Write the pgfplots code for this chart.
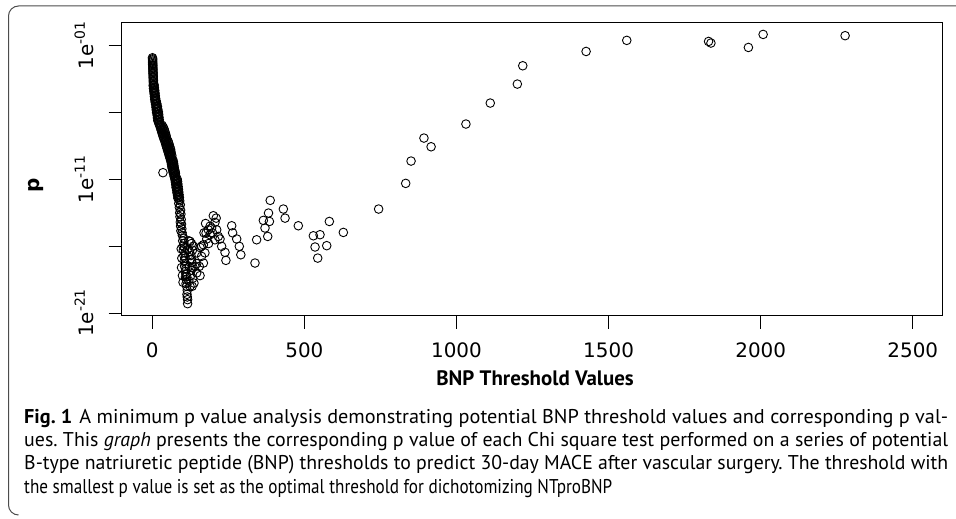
\documentclass[border=0pt]{standalone}
\usepackage{fontspec}
\setmainfont{PT Sans}
\newfontfamily\capfont{PT Sans}
\newfontfamily\dvs{DejaVu Sans}
\usepackage{graphicx}
\usepackage{pgfplots}
\usepackage{pgfplotstable}
\pgfplotsset{compat=1.18}
\frenchspacing
\newcommand\sufx[1]{\raisebox{0.42em}{\fontsize{14}{14}\selectfont #1}}
% x = BNP threshold, lp = log10(p)
\pgfplotstableread{
x lp
0.5 -1.90
1.0 -1.98
0.8 -2.06
1.2 -2.15
1.0 -2.24
1.5 -2.33
1.3 -2.42
1.8 -2.50
1.6 -2.60
2.0 -2.70
2.2 -2.80
2.0 -2.90
2.5 -3.00
2.3 -3.10
2.8 -3.20
3.0 -3.30
2.8 -3.40
3.3 -3.50
3.5 -3.60
3.3 -3.70
4.0 -3.80
4 -3.90
6 -3.95
3 -4.00
5 -4.10
7 -4.15
4 -4.20
6 -4.30
8 -4.35
5 -4.40
7 -4.50
9 -4.55
6 -4.60
8 -4.70
10 -4.75
7 -4.80
9 -4.90
11 -4.95
8 -5.00
10 -5.10
13 -5.15
9 -5.20
12 -5.30
15 -5.35
11 -5.40
14 -5.50
17 -5.55
12 -5.60
15 -5.70
18 -5.75
13 -5.80
16 -5.90
20 -5.95
14 -6.00
18 -6.10
21 -6.15
16 -6.20
19 -6.30
22 -6.35
17 -6.40
20 -6.50
23 -6.55
18 -6.60
21 -6.70
24 -6.75
22 -6.85
27 -6.90
32 -6.95
25 -7.00
30 -7.05
36 -7.10
27 -7.15
33 -7.20
39 -7.25
29 -7.30
35 -7.35
41 -7.40
31 -7.45
37 -7.50
43 -7.55
33 -7.60
39 -7.65
45 -7.70
35 -7.75
41 -7.80
46 -7.85
37 -7.90
43 -7.95
48 -8.00
40 -8.05
46 -8.10
52 -8.15
42 -8.20
48 -8.25
54 -8.30
44 -8.35
50 -8.40
56 -8.45
46 -8.50
52 -8.55
58 -8.60
48 -8.65
54 -8.70
60 -8.75
50 -8.80
56 -8.85
61 -8.90
52 -8.95
58 -9.00
62 -9.05
54 -9.10
60 -9.15
64 -9.20
56 -9.25
61 -9.30
58 -9.40
63 -9.45
67 -9.50
60 -9.55
65 -9.60
69 -9.65
62 -9.70
66 -9.75
70 -9.80
63 -9.85
67 -9.90
71 -9.95
64 -10.00
68 -10.05
72 -10.10
65 -10.15
69 -10.20
73 -10.25
67 -10.30
71 -10.35
75 -10.40
68 -10.45
72 -10.50
76 -10.55
70 -10.60
74 -10.70
77 -10.75
72 -10.80
35 -10.50
74 -10.90
78 -10.95
82 -11.00
75 -11.05
79 -11.10
83 -11.15
76 -11.20
80 -11.30
84 -11.35
77 -11.40
81 -11.50
85 -11.55
78 -11.60
82 -11.70
86 -11.75
80 -11.80
84 -11.90
87 -11.95
81 -12.00
85 -12.10
88 -12.15
83 -12.20
86 -12.30
89 -12.35
84 -12.40
88 -12.50
90 -12.60
87 -12.80
92 -12.90
89 -13.10
93 -13.30
90 -13.50
94 -13.60
91 -13.80
95 -14.00
92 -14.20
96 -14.35
93 -14.50
97 -14.70
94 -14.85
98 -15.00
99 -15.20
103 -15.40
100 -15.60
104 -15.80
101 -16.00
106 -16.10
102 -16.30
107 -16.50
104 -16.70
108 -16.90
105 -17.10
109 -17.30
106 -17.50
110 -17.70
108 -17.90
111 -18.10
109 -18.30
112 -18.50
111 -18.80
113 -19.00
115 -19.30
114 -19.60
115 -19.80
116 -20.00
116 -20.30
95 -16.20
97 -16.90
96 -17.60
99 -18.20
101 -18.70
120 -15.60
124 -15.64
129 -15.80
135 -16.00
115 -16.26
122 -16.40
127 -16.70
132 -16.30
129.5 -17.00
124 -17.00
130 -17.20
121.7 -17.51
128 -17.80
134 -17.60
140 -17.51
146 -17.30
113 -18.26
126 -18.20
133 -18.40
137 -18.76
146 -18.00
124 -19.00
120 -18.60
131 -19.00
146 -16.50
154.5 -17.51
157 -16.10
162 -16.76
157 -18.20
168 -17.26
173 -16.50
162 -16.00
168 -15.89
170 -15.00
176.6 -15.02
178.9 -15.46
184 -14.77
189.7 -15.14
195 -14.64
200.6 -13.72
206 -14.22
206 -15.52
211.7 -14.77
217 -15.27
222.6 -15.46
228 -16.01
239 -16.46
242 -17.06
185 -15.80
175 -14.30
190 -14.50
210 -13.90
198 -15.00
261 -14.47
264 -15.00
277.5 -15.46
286 -16.01
291 -16.64
337.6 -17.26
343 -15.52
365 -14.07
370.5 -14.64
379.4 -15.27
382 -13.52
385 -14.15
387.6 -12.57
430.8 -13.22
436.4 -13.90
480 -14.47
529.4 -15.22
535 -16.06
543.8 -16.89
551.4 -15.14
573.4 -15.96
582 -14.15
628 -14.97
744 -13.22
833 -11.30
850.6 -9.63
893 -7.91
916.5 -8.56
1031 -6.86
1111 -5.29
1200 -3.87
1217.8 -2.50
1426 -1.43
1559.7 -0.60
1828.6 -0.68
1836.4 -0.80
1959.6 -1.13
2008 -0.155
2277.5 -0.25
}\pvals

\newlength\capw
\newcommand\capline[2]{%
  \settowidth\capw{\capfont\fontsize{20}{22}\selectfont #2}%
  \scalebox{\fpeval{(#1)/\capw}}[1]{\capfont\fontsize{20}{22}\selectfont #2}}

\begin{document}
\begin{tikzpicture}
\useasboundingbox (0,0) rectangle (956bp,519bp);
\draw[line width=1bp, black!70] (957bp,513bp) -- (18.5bp,513bp)
  arc[start angle=90, end angle=180, radius=10bp] -- (8.5bp,14bp)
  arc[start angle=180, end angle=270, radius=10bp];
\begin{axis}[
  at={(121.7bp,203.3bp)}, anchor=south west,
  scale only axis, width=820.6bp, height=292.7bp,
  xmin=-100.6, xmax=2597, ymin=-21.2, ymax=0.70,
  axis line style={line width=1bp},
  tick style={line width=1bp, black},
  tick align=outside, major tick length=13bp,
  tick pos=left,
  xtick={0,500,...,2500}, xticklabels={0,500,1000,1500,2000,2500},
  ytick={-1,-6,-11,-16,-21},
  yticklabels={1e\sufx{-01},,1e\sufx{-11},,1e\sufx{-21}},
  minor tick num=0,
  xticklabel shift=14bp, yticklabel shift=15bp,
  xticklabel style={font=\dvs\fontsize{20}{20}\selectfont, inner sep=0pt, anchor=north},
  yticklabel style={font=\dvs\fontsize{20}{20}\selectfont, inner sep=0pt, rotate=90, anchor=south},
]
\addplot[only marks, mark=o, mark size=4.3bp, mark options={line width=0.9bp, black}]
  table[x=x, y=lp] {\pvals};
\end{axis}
\node[rotate=90, inner sep=0pt] at (36bp,334bp) {\dvs\bfseries\fontsize{20}{20}\selectfont p};
\node[anchor=base, inner sep=0pt] at (535bp,133bp) {\capfont\fontsize{21}{22}\selectfont\bfseries BNP Threshold Values};
\begin{scope}[every node/.style={anchor=base west, inner sep=0pt}]
\node at (24bp,95bp) {\capline{924bp}{\textbf{Fig.~1}\hspace{7bp}A minimum p value analysis demonstrating potential BNP threshold values and corresponding p val-}};
\node at (24bp,72bp) {\capline{924bp}{ues. This \textit{graph} presents the corresponding p value of each Chi square test performed on a series of potential}};
\node at (24bp,49bp) {\capline{924bp}{B-type natriuretic peptide (BNP) thresholds to predict 30-day MACE after vascular surgery. The threshold with}};
\node at (24bp,26bp) {\capline{588bp}{the smallest p value is set as the optimal threshold for dichotomizing NTproBNP}};
\end{scope}
\end{tikzpicture}
\end{document}
